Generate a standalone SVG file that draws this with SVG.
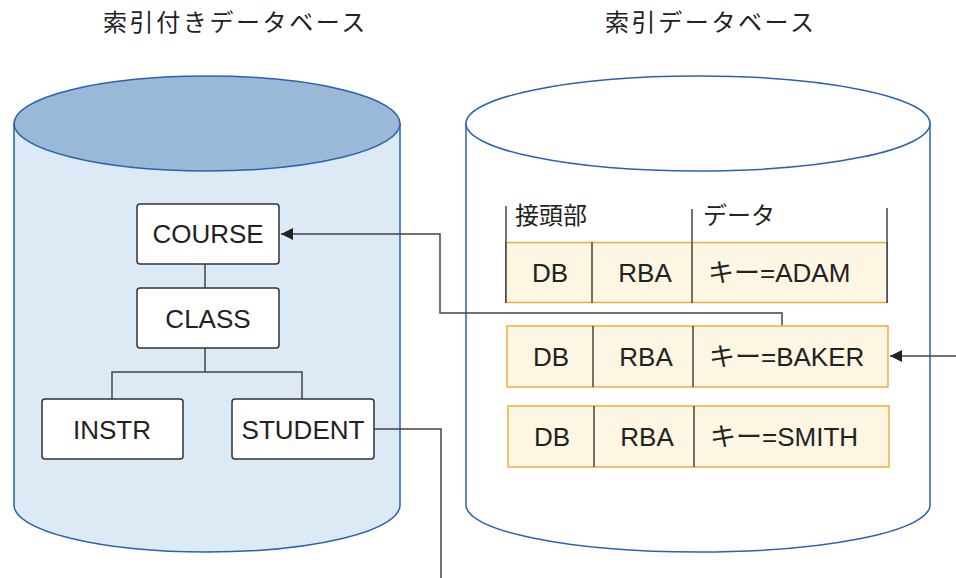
<svg xmlns="http://www.w3.org/2000/svg" width="956" height="578" viewBox="0 0 956 578">
<style>
.t{font-family:"Liberation Sans","Noto Sans CJK JP",sans-serif;font-size:26px;fill:#222}
.title{font-family:"Noto Sans CJK JP",sans-serif;font-size:24px;fill:#222;letter-spacing:2.6px}
.hdr{font-family:"Noto Sans CJK JP",sans-serif;font-size:24px;fill:#222}
.node{fill:#fff;stroke:#333;stroke-width:1.5}
.cyl{stroke:#2a62b0;stroke-width:1.5}
.ln{fill:none;stroke:#444;stroke-width:1.5}
.row{fill:#fdf6e3;stroke:#f5ac3c;stroke-width:1.5}
.div{stroke:#444;stroke-width:1.5}
</style>
<defs>
<marker id="ah" markerWidth="12" markerHeight="12" refX="12" refY="6" orient="auto" markerUnits="userSpaceOnUse">
<path d="M0,0 L12,6 L0,12 z" fill="#222"/>
</marker>
</defs>
<text class="title" x="103" y="31">索引付きデータベース</text>
<text class="title" x="605" y="31">索引データベース</text>

<g id="cyl-left">
<path class="cyl" fill="#dceaf6" d="M14,123.5 L14,505 A193,47 0 0 0 400,505 L400,123.5 Z"/>
<ellipse class="cyl" fill="#9ab9d9" cx="207" cy="123.5" rx="193" ry="47.5"/>
</g>
<g id="cyl-right">
<path class="cyl" fill="#fff" d="M466,123.5 L466,505 A232,47 0 0 0 930,505 L930,123.5 Z"/>
<ellipse class="cyl" fill="#fff" cx="698" cy="123.5" rx="232" ry="47.5"/>
</g>

<g id="connectors">
<line class="ln" x1="205" y1="264" x2="205" y2="288"/>
<polyline class="ln" points="205,348 205,372"/>
<polyline class="ln" points="112,399 112,372 302,372 302,399"/>
<polyline class="ln" points="374,429 441,429 441,578"/>
<polyline class="ln" points="782,326 782,313 440,313 440,234 281,234" marker-end="url(#ah)"/>
<line class="ln" x1="956" y1="356" x2="890" y2="356" marker-end="url(#ah)"/>
</g>

<g id="course"><rect class="node" x="137" y="204" width="142" height="60" rx="3"/><text class="t" x="208" y="243" text-anchor="middle">COURSE</text></g>
<g id="class"><rect class="node" x="137" y="288" width="142" height="60" rx="3"/><text class="t" x="208" y="328" text-anchor="middle">CLASS</text></g>
<g id="instr"><rect class="node" x="42" y="399" width="141" height="60" rx="3"/><text class="t" x="112" y="439" text-anchor="middle">INSTR</text></g>
<g id="student"><rect class="node" x="232" y="399" width="142" height="60" rx="3"/><text class="t" x="303" y="439" text-anchor="middle">STUDENT</text></g>

<g id="header">
<line class="div" x1="506" y1="206" x2="506" y2="303"/>
<line class="div" x1="692" y1="209" x2="692" y2="242"/>
<line class="div" x1="887" y1="208" x2="887" y2="303"/>
<text class="hdr" x="515" y="224">接頭部</text>
<text class="hdr" x="703" y="224">データ</text>
</g>
<g id="row-adam">
<rect x="506" y="242" width="381" height="61" fill="#fdf6e3"/>
<line x1="506" y1="242.5" x2="887" y2="242.5" stroke="#f5ac3c" stroke-width="1.5"/>
<line x1="506" y1="302.5" x2="887" y2="302.5" stroke="#f5ac3c" stroke-width="1.5"/>
<line class="div" x1="506" y1="242" x2="506" y2="303"/>
<line class="div" x1="887" y1="242" x2="887" y2="303" stroke="#5a4a30"/>
<line class="div" x1="592" y1="242" x2="592" y2="303"/>
<line class="div" x1="692" y1="242" x2="692" y2="303"/>
<text class="t" x="550" y="282" text-anchor="middle">DB</text>
<text class="t" x="645" y="282" text-anchor="middle">RBA</text>
<text class="t" x="708" y="282">キー=ADAM</text>
</g>
<g id="row-baker">
<rect class="row" x="507" y="326" width="381" height="61"/>
<line class="div" x1="593" y1="326" x2="593" y2="387"/>
<line class="div" x1="693" y1="326" x2="693" y2="387"/>
<text class="t" x="551" y="366" text-anchor="middle">DB</text>
<text class="t" x="646" y="366" text-anchor="middle">RBA</text>
<text class="t" x="709" y="366">キー=BAKER</text>
</g>
<g id="row-smith">
<rect class="row" x="508" y="406" width="381" height="61"/>
<line class="div" x1="594" y1="406" x2="594" y2="467"/>
<line class="div" x1="694" y1="406" x2="694" y2="467"/>
<text class="t" x="552" y="446" text-anchor="middle">DB</text>
<text class="t" x="647" y="446" text-anchor="middle">RBA</text>
<text class="t" x="710" y="446">キー=SMITH</text>
</g>
</svg>
